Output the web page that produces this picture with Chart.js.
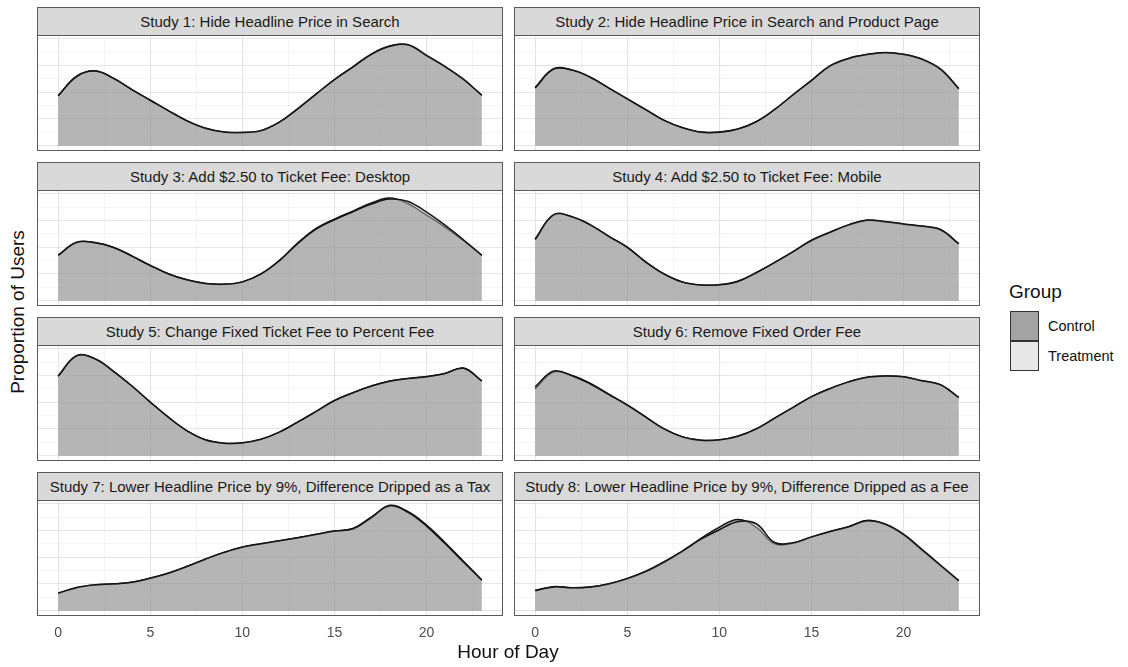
<!DOCTYPE html>
<html>
<head>
<meta charset="utf-8">
<script src="https://cdn.jsdelivr.net/npm/chart.js@4.4.1/dist/chart.umd.min.js"></script>
<style>
  body { margin: 0; background: #fff; font-family: "Liberation Sans", Arial, sans-serif; }
  #fig { position: relative; width: 1128px; height: 667px; overflow: hidden; }
  .strip {
    position: absolute; box-sizing: border-box; height: 29px;
    background: #d9d9d9; border: 1px solid #5a5a5a; color: #1a1a1a;
    font-size: 15px; line-height: 27px; text-align: center; white-space: nowrap;
  }
  .panel { position: absolute; }
  .title { position: absolute; color: #111; font-size: 19px; white-space: nowrap; }
  .key { position: absolute; box-sizing: border-box; width: 29px; height: 30px; border: 1.3px solid #333; }
  .keyLabel { position: absolute; font-size: 14.5px; color: #111; white-space: nowrap; }
</style>
</head>
<body>
<div id="fig"></div>
<script>
// Hourly density of user activity, one facet per study.
const HOURS = [0, 1, 2, 3, 4, 5, 6, 7, 8, 9, 10, 11, 12, 13, 14, 15, 16, 17, 18, 19, 20, 21, 22, 23];
const X_BREAKS = [0, 2.5, 5, 7.5, 10, 12.5, 15, 17.5, 20, 22.5];
const Y_BREAKS = [0, 0.01, 0.02, 0.03, 0.04, 0.05, 0.06, 0.07, 0.08];
const GROUPS = ['Control', 'Treatment'];

const STUDY_TITLES = [
    'Study 1: Hide Headline Price in Search',
    'Study 2: Hide Headline Price in Search and Product Page',
    'Study 3: Add $2.50 to Ticket Fee: Desktop',
    'Study 4: Add $2.50 to Ticket Fee: Mobile',
    'Study 5: Change Fixed Ticket Fee to Percent Fee',
    'Study 6: Remove Fixed Order Fee',
    'Study 7: Lower Headline Price by 9%, Difference Dripped as a Tax',
    'Study 8: Lower Headline Price by 9%, Difference Dripped as a Fee',
];

const study1Control   = [0.0375, 0.0520, 0.0560, 0.0505, 0.0420, 0.0340, 0.0260, 0.0185, 0.0130, 0.0102, 0.0098, 0.0112, 0.0175, 0.0275, 0.0385, 0.0495, 0.0590, 0.0685, 0.0745, 0.0752, 0.0672, 0.0590, 0.0495, 0.0375];
const study1Treatment = [0.0372, 0.0517, 0.0558, 0.0503, 0.0419, 0.0340, 0.0261, 0.0186, 0.0131, 0.0103, 0.0099, 0.0113, 0.0176, 0.0276, 0.0386, 0.0494, 0.0588, 0.0683, 0.0743, 0.0755, 0.0675, 0.0593, 0.0497, 0.0378];

const study2Control   = [0.0436, 0.0575, 0.0565, 0.0510, 0.0430, 0.0350, 0.0270, 0.0190, 0.0135, 0.0102, 0.0102, 0.0125, 0.0180, 0.0270, 0.0380, 0.0486, 0.0595, 0.0650, 0.0680, 0.0695, 0.0682, 0.0645, 0.0570, 0.0424];
const study2Treatment = [0.0432, 0.0572, 0.0566, 0.0512, 0.0431, 0.0350, 0.0269, 0.0189, 0.0134, 0.0101, 0.0101, 0.0124, 0.0179, 0.0271, 0.0381, 0.0488, 0.0597, 0.0652, 0.0682, 0.0697, 0.0684, 0.0648, 0.0574, 0.0428];

const study3Control   = [0.0338, 0.0435, 0.0435, 0.0400, 0.0335, 0.0264, 0.0200, 0.0155, 0.0128, 0.0123, 0.0140, 0.0200, 0.0300, 0.0430, 0.0540, 0.0610, 0.0670, 0.0730, 0.0768, 0.0725, 0.0640, 0.0550, 0.0450, 0.0338];
const study3Treatment = [0.0340, 0.0437, 0.0433, 0.0397, 0.0333, 0.0263, 0.0200, 0.0156, 0.0129, 0.0124, 0.0141, 0.0199, 0.0298, 0.0427, 0.0535, 0.0605, 0.0665, 0.0722, 0.0760, 0.0742, 0.0662, 0.0565, 0.0455, 0.0340];

const study4Control   = [0.0461, 0.0640, 0.0625, 0.0565, 0.0480, 0.0400, 0.0290, 0.0200, 0.0140, 0.0118, 0.0120, 0.0145, 0.0210, 0.0285, 0.0365, 0.0450, 0.0510, 0.0565, 0.0600, 0.0589, 0.0572, 0.0556, 0.0530, 0.0424];
const study4Treatment = [0.0458, 0.0643, 0.0628, 0.0567, 0.0481, 0.0399, 0.0289, 0.0199, 0.0139, 0.0117, 0.0119, 0.0144, 0.0209, 0.0286, 0.0367, 0.0452, 0.0512, 0.0567, 0.0603, 0.0592, 0.0574, 0.0558, 0.0532, 0.0426];

const study5Control   = [0.0596, 0.0748, 0.0725, 0.0630, 0.0520, 0.0400, 0.0285, 0.0185, 0.0118, 0.0093, 0.0096, 0.0122, 0.0175, 0.0250, 0.0330, 0.0412, 0.0470, 0.0520, 0.0558, 0.0578, 0.0592, 0.0615, 0.0655, 0.0560];
const study5Treatment = [0.0594, 0.0746, 0.0724, 0.0631, 0.0521, 0.0401, 0.0286, 0.0186, 0.0119, 0.0094, 0.0097, 0.0123, 0.0176, 0.0251, 0.0331, 0.0413, 0.0471, 0.0521, 0.0557, 0.0577, 0.0591, 0.0614, 0.0653, 0.0558];

const study6Control   = [0.0500, 0.0625, 0.0600, 0.0540, 0.0460, 0.0380, 0.0290, 0.0200, 0.0140, 0.0115, 0.0118, 0.0145, 0.0200, 0.0280, 0.0360, 0.0440, 0.0500, 0.0550, 0.0585, 0.0595, 0.0590, 0.0560, 0.0530, 0.0434];
const study6Treatment = [0.0515, 0.0633, 0.0598, 0.0536, 0.0457, 0.0378, 0.0289, 0.0200, 0.0141, 0.0116, 0.0119, 0.0146, 0.0201, 0.0281, 0.0362, 0.0442, 0.0502, 0.0552, 0.0586, 0.0596, 0.0590, 0.0561, 0.0531, 0.0436];

const study7Control   = [0.0130, 0.0172, 0.0193, 0.0200, 0.0212, 0.0243, 0.0280, 0.0330, 0.0385, 0.0435, 0.0475, 0.0500, 0.0522, 0.0545, 0.0570, 0.0595, 0.0615, 0.0700, 0.0780, 0.0740, 0.0640, 0.0510, 0.0370, 0.0230];
const study7Treatment = [0.0132, 0.0174, 0.0194, 0.0201, 0.0213, 0.0244, 0.0282, 0.0332, 0.0387, 0.0436, 0.0476, 0.0501, 0.0523, 0.0546, 0.0571, 0.0596, 0.0612, 0.0695, 0.0788, 0.0735, 0.0632, 0.0502, 0.0365, 0.0228];

const study8Control   = [0.0153, 0.0180, 0.0172, 0.0178, 0.0200, 0.0239, 0.0290, 0.0360, 0.0443, 0.0540, 0.0625, 0.0682, 0.0625, 0.0500, 0.0505, 0.0550, 0.0590, 0.0625, 0.0675, 0.0645, 0.0567, 0.0452, 0.0337, 0.0222];
const study8Treatment = [0.0150, 0.0178, 0.0171, 0.0178, 0.0202, 0.0242, 0.0295, 0.0366, 0.0448, 0.0535, 0.0605, 0.0665, 0.0650, 0.0510, 0.0508, 0.0552, 0.0592, 0.0628, 0.0672, 0.0648, 0.0572, 0.0458, 0.0342, 0.0225];

const CONTROL = [study1Control, study2Control, study3Control, study4Control, study5Control, study6Control, study7Control, study8Control];
const TREATMENT = [study1Treatment, study2Treatment, study3Treatment, study4Treatment, study5Treatment, study6Treatment, study7Treatment, study8Treatment];

// ggplot-like theme bits
const FONT = '"Liberation Sans", Arial, sans-serif';
const FILL_ALPHA = 0.45;
const FILLS = [`rgba(51,51,51,${FILL_ALPHA})`, `rgba(204,204,204,${FILL_ALPHA})`];
const LINE = '#141414';

// facet geometry
const COL_LEFT = [37, 514];
const PANEL_W = 466;
const PANEL_H = 116;
const ROW_STEP = 155;
const STRIP_TOP = 7;
const STRIP_H = 28;

// shared scales (5% expansion like ggplot)
const xSpan = HOURS[HOURS.length - 1] - HOURS[0];
const X_MIN = HOURS[0] - xSpan * 0.05;
const X_MAX = HOURS[HOURS.length - 1] + xSpan * 0.05;
const yPeak = Math.max(...CONTROL.flat(), ...TREATMENT.flat());
const Y_MIN = -yPeak * 0.05;
const Y_MAX = yPeak * 1.05;

const panelBorder = {
    id: 'panelBorder',
    afterDraw(chart) {
        const a = chart.chartArea;
        const c = chart.ctx;
        c.save();
        c.strokeStyle = '#5a5a5a';
        c.lineWidth = 1;
        c.strokeRect(a.left + 0.5, a.top + 0.5, a.right - a.left - 1, a.bottom - a.top - 1);
        c.restore();
    }
};

function gridStyle(isMajor) {
    return {
        color: ctx => (ctx.tick && isMajor(ctx.tick.value) ? '#e4e4e4' : '#f1f1f1'),
        lineWidth: ctx => (ctx.tick && isMajor(ctx.tick.value) ? 1.1 : 0.8),
        drawTicks: false,
    };
}

function mkPanel(fig, idx) {
    const row = Math.floor(idx / 2);
    const col = idx % 2;
    const bottomRow = row === 3;
    const left = COL_LEFT[col];
    const top = STRIP_TOP + row * ROW_STEP;

    const strip = document.createElement('div');
    strip.className = 'strip';
    strip.style.left = left + 'px';
    strip.style.top = top + 'px';
    strip.style.width = PANEL_W + 'px';
    strip.textContent = STUDY_TITLES[idx];
    fig.appendChild(strip);

    const xAxisH = bottomRow ? 32 : 0;
    const canvas = document.createElement('canvas');
    canvas.className = 'panel';
    canvas.width = PANEL_W;
    canvas.height = PANEL_H + xAxisH;
    canvas.style.left = left + 'px';
    canvas.style.top = (top + STRIP_H) + 'px';
    fig.appendChild(canvas);

    const series = [CONTROL[idx], TREATMENT[idx]];

    return new Chart(canvas, {
        type: 'line',
        data: {
            datasets: GROUPS.map((g, i) => ({
                label: g,
                data: HOURS.map((h, k) => ({ x: h, y: series[i][k] })),
                fill: 'origin',
                backgroundColor: FILLS[i],
                borderColor: LINE,
                borderWidth: 1.5,
                pointRadius: 0,
                tension: 0.4,
                // control underneath, treatment drawn over it
                order: i === 0 ? 2 : 1,
            })),
        },
        options: {
            responsive: false,
            animation: false,
            events: [],
            layout: { padding: 0 },
            plugins: { legend: { display: false }, tooltip: { enabled: false } },
            scales: {
                x: {
                    type: 'linear',
                    min: X_MIN,
                    max: X_MAX,
                    afterBuildTicks: axis => { axis.ticks = X_BREAKS.map(v => ({ value: v })); },
                    afterFit: scale => { scale.height = xAxisH; },
                    grid: gridStyle(v => v % 5 === 0),
                    border: { display: false },
                    ticks: {
                        display: bottomRow,
                        autoSkip: false,
                        maxRotation: 0,
                        padding: 9,
                        color: '#4d4d4d',
                        font: { family: FONT, size: 14 },
                        callback: v => (v % 5 === 0 ? String(v) : ''),
                    },
                },
                y: {
                    type: 'linear',
                    min: Y_MIN,
                    max: Y_MAX,
                    afterBuildTicks: axis => { axis.ticks = Y_BREAKS.map(v => ({ value: v })); },
                    afterFit: scale => { scale.width = 0; },
                    grid: gridStyle(v => Math.round(v * 100) % 2 === 0),
                    border: { display: false },
                    ticks: { display: false },
                },
            },
        },
        plugins: [panelBorder],
    });
}

const fig = document.getElementById('fig');
STUDY_TITLES.forEach((_, i) => mkPanel(fig, i));

// axis titles
const xTitle = document.createElement('div');
xTitle.className = 'title';
xTitle.textContent = 'Hour of Day';
xTitle.style.left = '508px';
xTitle.style.top = '652px';
xTitle.style.transform = 'translate(-50%, -50%)';
fig.appendChild(xTitle);

const yTitle = document.createElement('div');
yTitle.className = 'title';
yTitle.textContent = 'Proportion of Users';
yTitle.style.left = '18px';
yTitle.style.top = '312px';
yTitle.style.transform = 'translate(-50%, -50%) rotate(-90deg)';
fig.appendChild(yTitle);

// legend
const legTitle = document.createElement('div');
legTitle.className = 'title';
legTitle.textContent = 'Group';
legTitle.style.left = '1009px';
legTitle.style.top = '281px';
fig.appendChild(legTitle);

GROUPS.forEach((g, i) => {
    const key = document.createElement('div');
    key.className = 'key';
    key.style.left = '1010px';
    key.style.top = (311 + i * 30) + 'px';
    key.style.background = FILLS[i];
    fig.appendChild(key);

    const lab = document.createElement('div');
    lab.className = 'keyLabel';
    lab.textContent = g;
    lab.style.left = '1048px';
    lab.style.top = (326 + i * 30) + 'px';
    lab.style.transform = 'translateY(-50%)';
    fig.appendChild(lab);
});
</script>
</body>
</html>
